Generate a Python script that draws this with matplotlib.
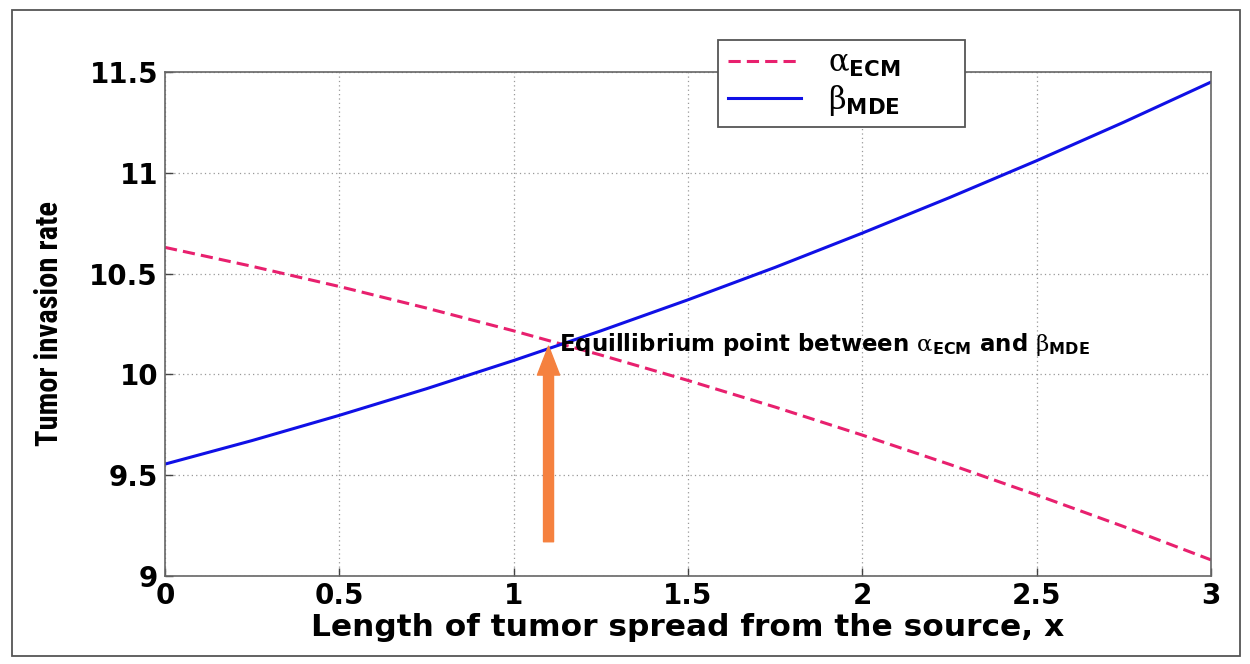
""" Tumor invasion rate: ECM vs MDE curves and their equilibrium point """
import matplotlib
matplotlib.use("Agg")
import matplotlib.pyplot as plt
from matplotlib.patches import Rectangle

# Sampled curves along the spread length x
x_values = [0.0, 0.25, 0.5, 0.75, 1.0, 1.25, 1.5, 1.75, 2.0, 2.25, 2.5, 2.75, 3.0]
alpha_ecm = [10.63, 10.536, 10.436, 10.329, 10.216, 10.096, 9.970, 9.838, 9.699,
             9.554, 9.402, 9.245, 9.08]
beta_mde = [9.555, 9.672, 9.797, 9.929, 10.069, 10.216, 10.370, 10.531, 10.701,
            10.877, 11.060, 11.251, 11.45]

x_ticks = [0, 0.5, 1, 1.5, 2, 2.5, 3]
x_tick_labels = ["0", "0.5", "1", "1.5", "2", "2.5", "3"]
y_ticks = [9, 9.5, 10, 10.5, 11, 11.5]
y_tick_labels = ["9", "9.5", "10", "10.5", "11", "11.5"]

# Where the two curves cross, and where the pointer arrow starts
equilibrium_x = 1.11
equilibrium_y = 10.15
arrow_base_y = 9.17

plt.rcParams["font.family"] = ["DejaVu Sans"]
plt.rcParams["mathtext.fontset"] = "custom"
plt.rcParams["mathtext.rm"] = "DejaVu Serif"
plt.rcParams["mathtext.bf"] = "DejaVu Sans:bold"
plt.rcParams["mathtext.it"] = "DejaVu Serif:italic"

fig = plt.figure(figsize=(12.5, 6.64), dpi=100)
ax = fig.add_axes([0.132, 0.1325, 0.8368, 0.7591])

# outer frame around the whole figure
fig.patches.append(Rectangle((12 / 1250, 8 / 664), 1228 / 1250, 646 / 664,
                             transform=fig.transFigure, fill=False,
                             edgecolor="#555555", linewidth=1.3))

ax.plot(x_values, alpha_ecm, color="#E8206E", linestyle=(0, (4, 2)),
        linewidth=2.2, label=r"$\mathrm{\alpha}_{\bf ECM}$")
ax.plot(x_values, beta_mde, color="#1010E6", linewidth=2.2,
        label=r"$\mathrm{\beta}_{\bf MDE}$")

ax.set_xlim(0, 3)
ax.set_ylim(9, 11.5)
ax.set_xticks(x_ticks)
ax.set_xticklabels(x_tick_labels, fontsize=20, fontweight="bold")
ax.set_yticks(y_ticks)
ax.set_yticklabels(y_tick_labels, fontsize=20, fontweight="bold")
ax.tick_params(direction="in", length=6, width=1, colors="#444444",
               labelcolor="black", pad=5)
ax.tick_params(axis="x", pad=4)
ax.grid(True, linestyle=(0, (1, 2.5)), color="#999999", linewidth=0.9)
for spine in ax.spines.values():
    spine.set_color("#666666")
    spine.set_linewidth(1.2)

ax.set_xlabel("Length of tumor spread from the source, x", fontsize=22.5,
              fontweight="bold")
ax.xaxis.set_label_coords(0.5, -0.074)
ax.set_ylabel("Tumor invasion rate", fontsize=22, fontweight="bold",
              family=["Roboto Condensed", "Liberation Sans Narrow", "Liberation Sans"])
ax.yaxis.set_label_coords(-0.097, 0.5)

# arrow pointing at the equilibrium point
ax.annotate("", xy=(1.10, equilibrium_y - 0.01), xytext=(1.10, arrow_base_y),
            arrowprops=dict(arrowstyle="simple,tail_width=0.45,head_width=1.0,head_length=1.3",
                            mutation_scale=16, color="#F5813F", shrinkA=0, shrinkB=0))
ax.text(equilibrium_x + 0.02, equilibrium_y,
        r"Equillibrium point between $\mathrm{\alpha}_{\bf ECM}$ and $\mathrm{\beta}_{\bf MDE}$",
        fontsize=16.5, fontweight="bold", va="center", ha="left")

leg = ax.legend(loc="upper left", bbox_to_anchor=(0.529, 0.9, 0.236, 0.164),
                mode="expand", fontsize=22,
                fancybox=False, framealpha=1, edgecolor="#555555",
                handlelength=2.4, handletextpad=0.9, borderpad=0.3,
                labelspacing=0.12, borderaxespad=0)
leg.get_frame().set_linewidth(1.3)

fig.savefig("out.png", dpi=100)
